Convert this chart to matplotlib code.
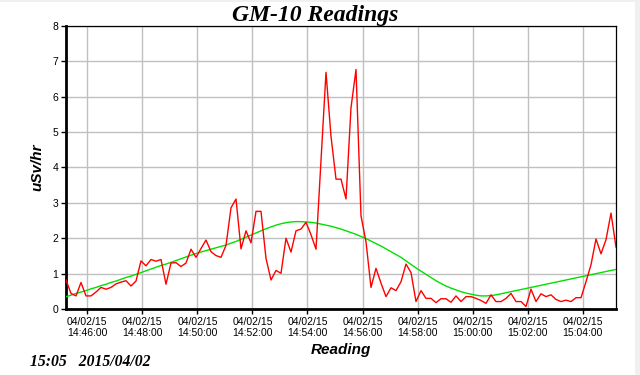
import numpy as np
import matplotlib
matplotlib.use("Agg")
import matplotlib.pyplot as plt
from matplotlib.patches import Rectangle

# ---- data ----
START_SEC = 13.6     # first reading, seconds after 14:45:00
STEP_SEC = 10.9      # sampling interval of the GM-10 readings

readings = [
    0.82, 0.44, 0.37, 0.75, 0.37, 0.37, 0.48, 0.61, 0.56, 0.61,
    0.71, 0.76, 0.80, 0.65, 0.79, 1.36, 1.22, 1.40, 1.35, 1.40,
    0.70, 1.30, 1.31, 1.20, 1.30, 1.69, 1.46, 1.71, 1.95, 1.62,
    1.51, 1.46, 1.80, 2.86, 3.11, 1.70, 2.21, 1.87, 2.76, 2.76,
    1.43, 0.82, 1.09, 1.01, 2.00, 1.61, 2.21, 2.26, 2.45, 2.10,
    1.69, 4.20, 6.69, 4.88, 3.67, 3.67, 3.11, 5.69, 6.77, 2.63,
    1.90, 0.61, 1.15, 0.73, 0.35, 0.60, 0.52, 0.77, 1.27, 1.03,
    0.21, 0.52, 0.30, 0.30, 0.18, 0.29, 0.29, 0.19, 0.37, 0.21,
    0.35, 0.35, 0.30, 0.24, 0.16, 0.40, 0.21, 0.21, 0.30, 0.44,
    0.21, 0.21, 0.07, 0.56, 0.21, 0.43, 0.35, 0.40, 0.27, 0.21,
    0.25, 0.21, 0.32, 0.32, 0.77, 1.25, 1.98, 1.56, 1.96, 2.71,
    1.75,
]

trend = [
    0.35, 0.39, 0.44, 0.48, 0.52, 0.57, 0.61, 0.66, 0.70, 0.75,
    0.79, 0.84, 0.89, 0.93, 0.98, 1.03, 1.08, 1.13, 1.18, 1.23,
    1.27, 1.32, 1.37, 1.42, 1.47, 1.52, 1.57, 1.61, 1.65, 1.69,
    1.73, 1.77, 1.81, 1.86, 1.91, 1.97, 2.03, 2.09, 2.15, 2.21,
    2.27, 2.32, 2.37, 2.41, 2.44, 2.46, 2.47, 2.47, 2.46, 2.45,
    2.43, 2.40, 2.37, 2.34, 2.30, 2.26, 2.21, 2.16, 2.11, 2.05,
    1.99, 1.92, 1.85, 1.78, 1.70, 1.62, 1.54, 1.46, 1.36, 1.26,
    1.16, 1.07, 0.98, 0.89, 0.80, 0.72, 0.65, 0.59, 0.54, 0.49,
    0.45, 0.42, 0.39, 0.37, 0.37, 0.38, 0.40, 0.43, 0.46, 0.49,
    0.52, 0.55, 0.58, 0.61, 0.64, 0.67, 0.70, 0.73, 0.76, 0.79,
    0.82, 0.85, 0.88, 0.91, 0.94, 0.97, 1.00, 1.03, 1.06, 1.09,
    1.12,
]

tick_secs = [60, 180, 300, 420, 540, 660, 780, 900, 1020, 1140]
tick_labels = [
    "04/02/15\n14:46:00", "04/02/15\n14:48:00", "04/02/15\n14:50:00",
    "04/02/15\n14:52:00", "04/02/15\n14:54:00", "04/02/15\n14:56:00",
    "04/02/15\n14:58:00", "04/02/15\n15:00:00", "04/02/15\n15:02:00",
    "04/02/15\n15:04:00",
]
y_ticks = [0, 1, 2, 3, 4, 5, 6, 7, 8]

title = "GM-10 Readings"
x_label = "Reading"
y_label = "uSv/hr"
stamp = "15:05   2015/04/02"

# ---- figure ----
times = START_SEC + STEP_SEC * np.arange(len(readings))

W, H = 640, 375
fig = plt.figure(figsize=(W / 100, H / 100), dpi=100)
fig.patch.set_facecolor("white")

# light grey window edges (screenshot border)
fig.patches.append(Rectangle((635 / W, 0), 5 / W, 1, transform=fig.transFigure,
                             facecolor="#f0f0f0", edgecolor="none", zorder=-1))
fig.patches.append(Rectangle((0, 1 - 1.5 / H), 1, 1.5 / H, transform=fig.transFigure,
                             facecolor="#f0f0f0", edgecolor="none", zorder=-1))

L, R, T, B = 66, 616, 26, 309
ax = fig.add_axes([L / W, 1 - B / H, (R - L) / W, (B - T) / H])

ax.plot(times, trend, color="#00e000", lw=1.0, zorder=3)
ax.plot(times, readings, color="#ff0000", lw=1.0, zorder=4)

ax.set_xlim(times[0], times[-1])
ax.set_ylim(0, 8)
ax.set_xticks(tick_secs)
ax.set_xticklabels(tick_labels)
ax.set_yticks(y_ticks)
ax.set_yticklabels([str(v) for v in y_ticks])

ax.grid(True, color="#c0c0c0", lw=1.0, zorder=0)
ax.set_axisbelow(True)

for s in ("top", "right"):
    ax.spines[s].set_linewidth(0.9)
for s in ("left", "bottom"):
    ax.spines[s].set_linewidth(2.0)
for s in ax.spines.values():
    s.set_color("black")

ax.tick_params(axis="both", direction="out", length=3.5, width=1.0,
               colors="black", labelsize=7.5, pad=2)
for lab in ax.get_xticklabels() + ax.get_yticklabels():
    lab.set_fontfamily("Liberation Sans")
for lab in ax.get_xticklabels():
    lab.set_linespacing(1.15)

ax.set_xlabel(x_label, fontsize=11, fontweight="bold", fontstyle="italic",
              fontfamily="Liberation Sans", labelpad=4)
ax.set_ylabel(y_label, fontsize=11, fontweight="bold", fontstyle="italic",
              fontfamily="Liberation Sans", labelpad=6)

fig.text(315 / W, 1 - 21 / H, title, ha="center", va="baseline",
         fontsize=17, fontweight="bold", fontstyle="italic",
         fontfamily="Liberation Serif")
fig.text(30.5 / W, 1 - 366 / H, stamp, ha="left", va="baseline",
         fontsize=11.3, fontweight="bold", fontstyle="italic",
         fontfamily="Liberation Serif")

fig.savefig("out.png", dpi=100, facecolor=fig.get_facecolor())
